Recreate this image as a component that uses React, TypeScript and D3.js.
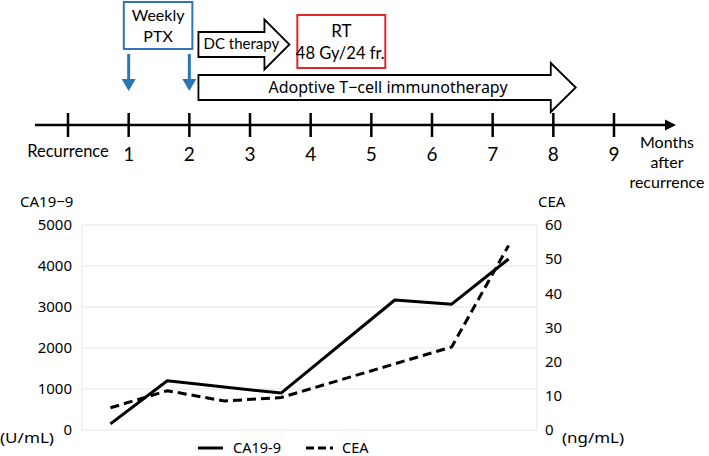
import * as d3 from 'd3';

// sample points (equally spaced categories in the lower chart)
const samples = ['s1', 's2', 's3', 's4', 's5', 's6', 's7', 's8'];
const ca199: (number | null)[] = [150, 1200, null, 900, null, 3170, 3070, 4170];
const cea: (number | null)[] = [6.5, 11.5, 8.5, 9.5, null, null, 24.3, 54];
const leftTicks = [0, 1000, 2000, 3000, 4000, 5000];
const rightTicks = [0, 10, 20, 30, 40, 50, 60];

// timeline (months after recurrence)
const months = [0, 1, 2, 3, 4, 5, 6, 7, 8, 9];
const monthLabels = ['Recurrence', '1', '2', '3', '4', '5', '6', '7', '8', '9'];
const ptxMonths = [1, 2];
const dcSpan = [2.15, 3.65];
const adoptiveSpan = [2.15, 8.37];
const rtSpan = [3.78, 5.23];
const ptxSpan = [0.92, 2.05];

const W = 709;
const H = 456;
const jp = '"Noto Sans", "Noto Sans CJK JP", sans-serif';
const gill = 'Lato, "Open Sans", sans-serif';

function blockArrow(x0: number, x1: number, yc: number, bodyH: number, headH: number, headLen: number) {
  const p = d3.path();
  p.moveTo(x0, yc - bodyH / 2);
  p.lineTo(x1 - headLen, yc - bodyH / 2);
  p.lineTo(x1 - headLen, yc - headH / 2);
  p.lineTo(x1, yc);
  p.lineTo(x1 - headLen, yc + headH / 2);
  p.lineTo(x1 - headLen, yc + bodyH / 2);
  p.lineTo(x0, yc + bodyH / 2);
  p.closePath();
  return p.toString();
}

export default function App() {
  // timeline scale
  const t = d3.scaleLinear().domain([0, 9]).range([68, 614]);
  const axisY = 125;

  // chart scales
  const x = d3.scaleBand().domain(samples).range([82, 537]);
  const yL = d3.scaleLinear().domain([0, 5000]).range([430, 225]);
  const yR = d3.scaleLinear().domain([0, 60]).range([430, 225]);
  const cx = (i: number) => x(samples[i])! + x.bandwidth() / 2;

  const lineL = d3.line<[number, number]>().x(d => cx(d[0])).y(d => yL(d[1]));
  const lineR = d3.line<[number, number]>().x(d => cx(d[0])).y(d => yR(d[1]));
  const ptsL = ca199.map((v, i) => [i, v] as [number, number | null]).filter(d => d[1] != null) as [number, number][];
  const ptsR = cea.map((v, i) => [i, v] as [number, number | null]).filter(d => d[1] != null) as [number, number][];

  return (
    <svg width={W} height={H} style={{ position: 'absolute', left: 0, top: 0, background: '#fff' }}>
      {/* ---------- timeline ---------- */}
      <line x1={35} x2={668} y1={axisY} y2={axisY} stroke="#000" strokeWidth={2.5} />
      <path d={`M${676},${axisY} L${665},${axisY - 5.5} L${665},${axisY + 5.5} Z`} fill="#000" />
      {months.map((m, i) => (
        <g key={m}>
          <line x1={t(m)} x2={t(m)} y1={axisY - 12} y2={axisY + 12} stroke="#000" strokeWidth={2.5} />
          <text x={t(m)} y={i === 0 ? 157 : 161} textAnchor="middle" fontFamily={gill}
            fontSize={i === 0 ? 16.5 : 19} fill="#000">{monthLabels[i]}</text>
        </g>
      ))}
      <text x={667} y={148} textAnchor="middle" fontFamily={gill} fontSize={16}>Months</text>
      <text x={667} y={168} textAnchor="middle" fontFamily={gill} fontSize={16}>after</text>
      <text x={667} y={188} textAnchor="middle" fontFamily={gill} fontSize={16}>recurrence</text>

      {/* Weekly PTX */}
      <rect x={t(ptxSpan[0])} y={2} width={t(ptxSpan[1]) - t(ptxSpan[0])} height={47}
        fill="#fff" stroke="#2e75b6" strokeWidth={2} />
      <text x={(t(ptxSpan[0]) + t(ptxSpan[1])) / 2} y={21} textAnchor="middle" fontFamily={gill} fontSize={16}>Weekly</text>
      <text x={(t(ptxSpan[0]) + t(ptxSpan[1])) / 2} y={42} textAnchor="middle" fontFamily={gill} fontSize={16}>PTX</text>
      {ptxMonths.map(m => (
        <g key={m}>
          <line x1={t(m)} x2={t(m)} y1={54} y2={80} stroke="#2e75b6" strokeWidth={3} />
          <path d={`M${t(m) - 7},${79} L${t(m) + 7},${79} L${t(m)},${91} Z`} fill="#2e75b6" />
        </g>
      ))}

      {/* DC therapy */}
      <path d={blockArrow(t(dcSpan[0]), t(dcSpan[1]), 44.5, 25, 50, 25)} fill="#fff" stroke="#000" strokeWidth={1.8} />
      <text x={(t(dcSpan[0]) + t(dcSpan[1]) - 25) / 2 + 10} y={49} textAnchor="middle" fontFamily={gill} fontSize={15}>DC therapy</text>

      {/* RT */}
      <rect x={t(rtSpan[0])} y={15} width={t(rtSpan[1]) - t(rtSpan[0])} height={53}
        fill="#fff" stroke="#e0282c" strokeWidth={2} />
      <text x={(t(rtSpan[0]) + t(rtSpan[1])) / 2} y={37} textAnchor="middle" fontFamily={gill} fontSize={17}>RT</text>
      <text x={(t(rtSpan[0]) + t(rtSpan[1])) / 2 - 1} y={59} textAnchor="middle" fontFamily={gill} fontSize={16.5}>48 Gy/24 fr.</text>

      {/* Adoptive T-cell immunotherapy */}
      <path d={blockArrow(t(adoptiveSpan[0]), t(adoptiveSpan[1]), 87.5, 25, 49, 25)} fill="#fff" stroke="#000" strokeWidth={1.8} />
      <text x={388} y={93} textAnchor="middle" fontFamily={jp} fontSize={16}>Adoptive T−cell immunotherapy</text>

      {/* ---------- lower chart ---------- */}
      {leftTicks.map(v => (
        <line key={v} x1={82} x2={537} y1={yL(v)} y2={yL(v)} stroke="#e6e6e6" strokeWidth={1} />
      ))}
      <line x1={82} x2={82} y1={225} y2={430} stroke="#e6e6e6" strokeWidth={1} />
      <line x1={537} x2={537} y1={225} y2={430} stroke="#e6e6e6" strokeWidth={1} />

      {leftTicks.map(v => (
        <text key={v} x={72} y={yL(v)} dy="0.35em" textAnchor="end" fontFamily={jp} fontSize={15}>{v}</text>
      ))}
      {rightTicks.map(v => (
        <text key={v} x={545} y={yR(v)} dy="0.35em" textAnchor="start" fontFamily={jp} fontSize={15}>{v}</text>
      ))}
      <text x={20} y={207} fontFamily={jp} fontSize={15}>CA19−9</text>
      <text x={0} y={443} fontFamily={jp} fontSize={14} textLength={54} lengthAdjust="spacingAndGlyphs">(U/mL)</text>
      <text x={538} y={207} fontFamily={jp} fontSize={15}>CEA</text>
      <text x={562} y={443} fontFamily={jp} fontSize={14} textLength={62} lengthAdjust="spacingAndGlyphs">(ng/mL)</text>

      <path d={lineL(ptsL)!} fill="none" stroke="#000" strokeWidth={3} strokeLinejoin="round" />
      <path d={lineR(ptsR)!} fill="none" stroke="#000" strokeWidth={3} strokeDasharray="9,5" />

      {/* legend */}
      <line x1={198} x2={223} y1={448} y2={448} stroke="#000" strokeWidth={3} />
      <text x={233} y={448} dy="0.35em" fontFamily={jp} fontSize={14.5}>CA19-9</text>
      <line x1={306} x2={333} y1={448} y2={448} stroke="#000" strokeWidth={3} strokeDasharray="8,4" />
      <text x={342} y={448} dy="0.35em" fontFamily={jp} fontSize={14.5}>CEA</text>
    </svg>
  );
}
